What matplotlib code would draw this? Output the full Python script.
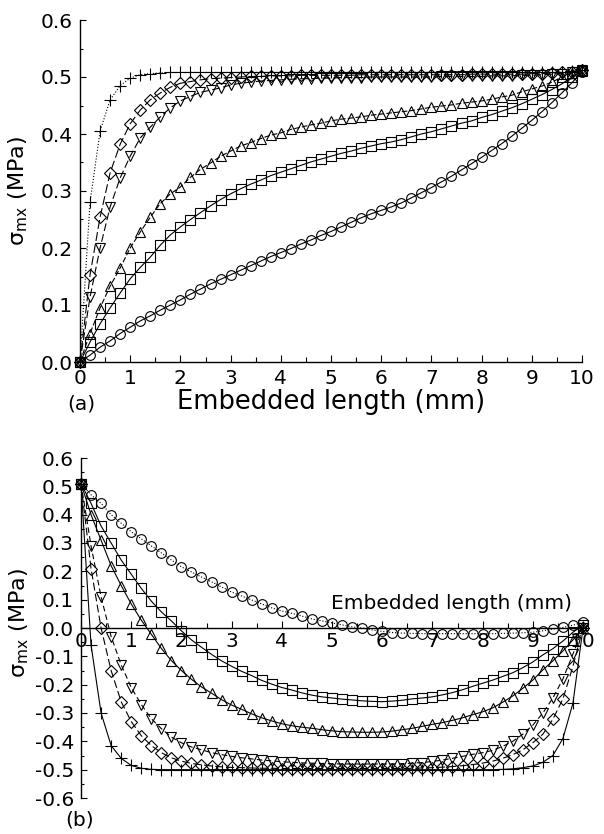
import numpy as np
import matplotlib
matplotlib.use("Agg")
import matplotlib.pyplot as plt
import matplotlib.transforms as mtransforms
from matplotlib.ticker import MultipleLocator, FormatStrFormatter

plt.rcParams['font.family'] = ['DejaVu Sans']
plt.rcParams['axes.unicode_minus'] = False

# embedded length positions (mm), one point every 0.2 mm
x_mm = np.round(np.arange(0, 10.01, 0.2), 1)

# (a) stress along the embedded length
a_circle = [0.000, 0.012, 0.026, 0.037, 0.050, 0.061, 0.072, 0.081, 0.091, 0.100,
            0.109, 0.119, 0.128, 0.137, 0.145, 0.153, 0.161, 0.169, 0.177, 0.185,
            0.192, 0.199, 0.207, 0.214, 0.222, 0.229, 0.237, 0.245, 0.253, 0.260,
            0.266, 0.272, 0.279, 0.288, 0.297, 0.306, 0.316, 0.326, 0.337, 0.348,
            0.359, 0.371, 0.383, 0.396, 0.410, 0.424, 0.439, 0.455, 0.472, 0.490,
            0.509]
a_square = [0.000, 0.035, 0.067, 0.095, 0.121, 0.146, 0.166, 0.184, 0.205, 0.223,
            0.237, 0.250, 0.262, 0.274, 0.285, 0.295, 0.304, 0.312, 0.319, 0.327,
            0.333, 0.339, 0.345, 0.351, 0.356, 0.361, 0.366, 0.370, 0.375, 0.379,
            0.383, 0.386, 0.390, 0.395, 0.400, 0.404, 0.409, 0.414, 0.419, 0.423,
            0.429, 0.434, 0.440, 0.446, 0.453, 0.461, 0.469, 0.478, 0.488, 0.500,
            0.511]
a_tri_up = [0.000, 0.050, 0.095, 0.133, 0.165, 0.200, 0.228, 0.254, 0.278, 0.295,
            0.307, 0.324, 0.338, 0.349, 0.361, 0.370, 0.379, 0.385, 0.392, 0.398,
            0.402, 0.408, 0.412, 0.416, 0.419, 0.423, 0.426, 0.428, 0.430, 0.433,
            0.435, 0.437, 0.439, 0.441, 0.444, 0.447, 0.449, 0.451, 0.454, 0.456,
            0.458, 0.461, 0.465, 0.468, 0.474, 0.479, 0.484, 0.491, 0.500, 0.507,
            0.512]
a_tri_dn = [0.000, 0.114, 0.200, 0.272, 0.323, 0.361, 0.393, 0.412, 0.430, 0.446,
            0.458, 0.466, 0.473, 0.477, 0.481, 0.486, 0.489, 0.491, 0.493, 0.494,
            0.495, 0.496, 0.497, 0.497, 0.498, 0.498, 0.499, 0.499, 0.499, 0.500,
            0.500, 0.500, 0.500, 0.500, 0.500, 0.500, 0.501, 0.501, 0.501, 0.501,
            0.501, 0.502, 0.502, 0.502, 0.503, 0.503, 0.504, 0.505, 0.506, 0.508,
            0.512]
a_diamond = [0.000, 0.153, 0.254, 0.332, 0.382, 0.418, 0.442, 0.460, 0.472, 0.482,
             0.489, 0.492, 0.495, 0.497, 0.498, 0.499, 0.500, 0.501, 0.501, 0.502,
             0.502, 0.502, 0.503, 0.503, 0.503, 0.503, 0.503, 0.503, 0.504, 0.504,
             0.504, 0.504, 0.504, 0.504, 0.504, 0.504, 0.504, 0.504, 0.504, 0.505,
             0.505, 0.505, 0.505, 0.505, 0.505, 0.506, 0.506, 0.507, 0.508, 0.509,
             0.512]
a_plus = [0.000, 0.280, 0.405, 0.460, 0.485, 0.498, 0.504, 0.506, 0.507, 0.508,
          0.508, 0.508, 0.508, 0.508, 0.508, 0.508, 0.508, 0.508, 0.508, 0.508,
          0.508, 0.508, 0.508, 0.508, 0.508, 0.508, 0.508, 0.508, 0.508, 0.508,
          0.508, 0.508, 0.508, 0.508, 0.508, 0.508, 0.508, 0.508, 0.508, 0.508,
          0.508, 0.508, 0.508, 0.508, 0.508, 0.508, 0.508, 0.508, 0.509, 0.510,
          0.512]

# (b)
b_circle = [0.510, 0.470, 0.440, 0.400, 0.370, 0.340, 0.315, 0.290, 0.265, 0.240,
            0.216, 0.198, 0.180, 0.163, 0.145, 0.127, 0.113, 0.099, 0.085, 0.071,
            0.060, 0.052, 0.042, 0.032, 0.025, 0.018, 0.011, 0.004, 0.000, -0.007,
            -0.012, -0.016, -0.018, -0.019, -0.020, -0.020, -0.020, -0.020, -0.020, -0.020,
            -0.020, -0.020, -0.019, -0.018, -0.017, -0.015, -0.010, -0.004, 0.002, 0.010,
            0.020]
b_square = [0.510, 0.440, 0.360, 0.300, 0.240, 0.190, 0.140, 0.095, 0.057, 0.025,
            -0.010, -0.042, -0.068, -0.093, -0.116, -0.135, -0.153, -0.168, -0.185, -0.198,
            -0.210, -0.219, -0.229, -0.237, -0.243, -0.247, -0.251, -0.254, -0.257, -0.259,
            -0.260, -0.258, -0.255, -0.250, -0.247, -0.243, -0.236, -0.228, -0.218, -0.206,
            -0.195, -0.184, -0.171, -0.158, -0.140, -0.120, -0.095, -0.073, -0.046, -0.015,
            0.010]
b_tri_up = [0.510, 0.400, 0.310, 0.220, 0.150, 0.085, 0.028, -0.022, -0.072, -0.115,
            -0.150, -0.181, -0.208, -0.230, -0.253, -0.272, -0.287, -0.303, -0.317, -0.328,
            -0.338, -0.345, -0.350, -0.354, -0.359, -0.363, -0.366, -0.367, -0.368, -0.368,
            -0.367, -0.364, -0.359, -0.354, -0.347, -0.340, -0.334, -0.326, -0.317, -0.306,
            -0.296, -0.282, -0.262, -0.240, -0.213, -0.184, -0.148, -0.116, -0.081, -0.042,
            0.000]
b_tri_dn = [0.510, 0.290, 0.110, -0.030, -0.130, -0.210, -0.270, -0.320, -0.355, -0.385,
            -0.405, -0.420, -0.430, -0.440, -0.447, -0.453, -0.458, -0.462, -0.466, -0.469,
            -0.472, -0.474, -0.476, -0.477, -0.478, -0.479, -0.480, -0.480, -0.480, -0.480,
            -0.480, -0.480, -0.479, -0.477, -0.475, -0.471, -0.466, -0.460, -0.453, -0.446,
            -0.440, -0.432, -0.418, -0.400, -0.375, -0.343, -0.300, -0.247, -0.180, -0.092,
            0.000]
b_diamond = [0.510, 0.210, 0.000, -0.150, -0.260, -0.330, -0.380, -0.415, -0.440, -0.458,
             -0.470, -0.478, -0.483, -0.487, -0.490, -0.492, -0.493, -0.494, -0.495, -0.495,
             -0.496, -0.496, -0.496, -0.496, -0.496, -0.496, -0.496, -0.496, -0.496, -0.496,
             -0.496, -0.496, -0.496, -0.495, -0.494, -0.493, -0.491, -0.489, -0.486, -0.482,
             -0.477, -0.470, -0.460, -0.447, -0.430, -0.405, -0.375, -0.322, -0.250, -0.135,
             0.000]
b_plus = [0.510, -0.060, -0.300, -0.415, -0.460, -0.485, -0.495, -0.499, -0.500, -0.500,
          -0.500, -0.500, -0.500, -0.500, -0.500, -0.500, -0.500, -0.500, -0.500, -0.500,
          -0.500, -0.500, -0.500, -0.500, -0.500, -0.500, -0.500, -0.500, -0.500, -0.500,
          -0.500, -0.500, -0.500, -0.500, -0.500, -0.500, -0.500, -0.500, -0.500, -0.500,
          -0.500, -0.500, -0.499, -0.497, -0.493, -0.487, -0.474, -0.450, -0.390, -0.265,
          0.000]

fig = plt.figure(figsize=(6.04, 8.34), dpi=100)
ax1 = fig.add_axes([80/604, 1-362/834, 502/604, 342/834])
ax2 = fig.add_axes([81/604, 1-798/834, 502/604, 340/834])

mk = dict(color='black', mfc='none', mec='black', mew=0.8, lw=0.8, clip_on=False)

# panel (a)
ax1.plot(x_mm, a_circle, marker='o', ms=7, ls='-', **mk)
ax1.plot(x_mm, a_square, marker='s', ms=6.5, ls='-', **mk)
ax1.plot(x_mm, a_tri_up, marker='^', ms=7.5, ls=(0, (5, 2)), **mk)
ax1.plot(x_mm, a_tri_dn, marker='v', ms=7.5, ls=(0, (7, 3)), **mk)
ax1.plot(x_mm, a_diamond, marker='D', ms=6.5, ls=(0, (8, 3)), **mk)
ax1.plot(x_mm, a_plus, marker='+', ms=8, ls=':', **mk)

# panel (b)
ax2.plot(x_mm, b_circle, marker='o', ms=7, ls=':', **mk)
ax2.plot(x_mm, b_square, marker='s', ms=6.5, ls='-', **mk)
ax2.plot(x_mm, b_tri_up, marker='^', ms=7.5, ls='-', **mk)
ax2.plot(x_mm, b_tri_dn, marker='v', ms=7.5, ls=(0, (5, 3)), **mk)
ax2.plot(x_mm, b_diamond, marker='D', ms=6.5, ls=(0, (7, 3)), **mk)
ax2.plot(x_mm, b_plus, marker='+', ms=8, ls='-', **mk)

for ax in (ax1, ax2):
    ax.set_xlim(0, 10)
    ax.spines['top'].set_visible(False)
    ax.spines['right'].set_visible(False)
    ax.spines['left'].set_linewidth(1.0)
    ax.spines['bottom'].set_linewidth(1.0)
    ax.xaxis.set_major_locator(MultipleLocator(1))
    ax.xaxis.set_minor_locator(MultipleLocator(0.5))
    ax.yaxis.set_major_locator(MultipleLocator(0.1))
    ax.yaxis.set_minor_locator(MultipleLocator(0.05))
    ax.yaxis.set_major_formatter(FormatStrFormatter('%.1f'))
    ax.tick_params(which='both', direction='in', labelsize=14.5, width=0.8)
    ax.tick_params(axis='x', which='major', length=5)
    ax.tick_params(axis='x', which='minor', length=3.5)
    ax.tick_params(axis='y', which='major', length=4, pad=5)
    ax.tick_params(axis='y', which='minor', length=2.5)

ax1.set_ylim(0, 0.6)
ax1.tick_params(axis='x', pad=5)
ax1.set_xlabel('Embedded length (mm)', fontsize=18.5)
ax1.xaxis.set_label_coords(0.5, -0.08)
ax1.set_ylabel('σ$_{\\mathrm{mx}}$ (MPa)', fontsize=16)
ax1.yaxis.set_label_coords(-0.1, 0.5)

ax2.set_ylim(-0.6, 0.6)
ax2.spines['bottom'].set_position(('data', 0))
ax2.tick_params(axis='x', pad=3)
ax2.text(9.78, 0.088, 'Embedded length (mm)', ha='right', va='center', fontsize=14.5)
ax2.set_ylabel('σ$_{\\mathrm{mx}}$ (MPa)', fontsize=16)
ax2.yaxis.set_label_coords(-0.1, 0.515)

fig.canvas.draw()
zero_lbl = ax2.get_xticklabels()[0]
zero_lbl.set_transform(zero_lbl.get_transform() +
                       mtransforms.ScaledTranslation(8/100, 0, fig.dpi_scale_trans))

fig.text(81/604, 1-404/834, '(a)', ha='center', va='center', fontsize=14.5)
fig.text(80/604, 1-820/834, '(b)', ha='center', va='center', fontsize=14.5)

fig.savefig('out.png', dpi=100)
